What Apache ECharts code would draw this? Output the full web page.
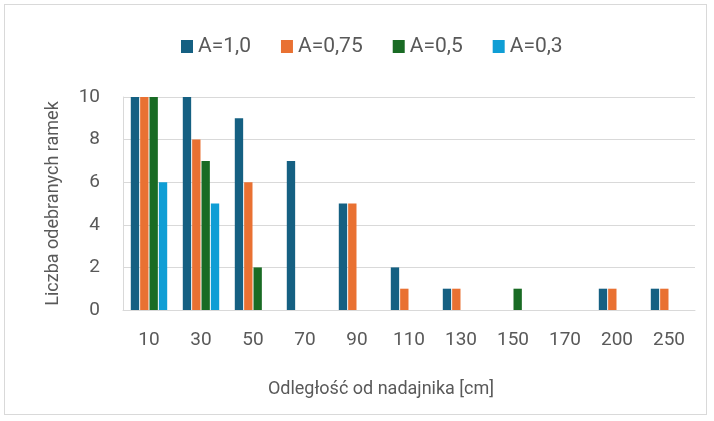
<!DOCTYPE html>
<html>
<head>
<meta charset="utf-8">
<script src="https://cdn.jsdelivr.net/npm/echarts@6/dist/echarts.min.js"></script>
<style>
  html, body { margin: 0; padding: 0; background: #fff; }
  #chart { position: absolute; left: 0; top: 0; width: 714px; height: 421px; }
  #frame { position: absolute; left: 4px; top: 4px; width: 703px; height: 411px; border: 1px solid #d9d9d9; box-sizing: border-box; }
</style>
</head>
<body>
<div id="frame"></div>
<div id="chart"></div>
<script>
var categories = ['10', '30', '50', '70', '90', '110', '130', '150', '170', '200', '250'];
var seriesNames = ['A=1,0', 'A=0,75', 'A=0,5', 'A=0,3'];
var a10 = [10, 10, 9, 7, 5, 2, 1, 0, 0, 1, 1];
var a075 = [10, 8, 6, 0, 5, 1, 1, 0, 0, 1, 1];
var a05 = [10, 7, 2, 0, 0, 0, 0, 1, 0, 0, 0];
var a03 = [6, 5, 0, 0, 0, 0, 0, 0, 0, 0, 0];
var yTicks = [0, 2, 4, 6, 8, 10];

var colors = ['#156082', '#E97132', '#196B24', '#0F9ED5'];
var fontFam = 'Roboto, "Liberation Sans", sans-serif';

var myChart = echarts.init(document.getElementById('chart'));
var allData = [a10, a075, a05, a03];
var series = [];
for (var i = 0; i < seriesNames.length; i++) {
    series.push({
        name: seriesNames[i],
        type: 'bar',
        data: allData[i],
        barGap: '12%',
        barCategoryGap: '30%',
        itemStyle: { color: colors[i] }
    });
}

var option = {
    animation: false,
    textStyle: { fontFamily: fontFam },
    legend: {
        top: 31,
        left: 176,
        itemWidth: 12,
        itemHeight: 13,
        itemGap: 30,
        icon: 'rect',
        textStyle: { color: '#595959', fontSize: 21, fontFamily: fontFam },
        data: seriesNames
    },
    grid: { left: 123, right: 19, top: 97, bottom: 111 },
    xAxis: {
        type: 'category',
        data: categories,
        name: 'Odległość od nadajnika [cm]',
        nameLocation: 'middle',
        nameGap: 70,
        nameTextStyle: { color: '#595959', fontSize: 18, padding: [0, 56, 0, 0] },
        axisLine: { show: true, lineStyle: { color: '#d9d9d9' } },
        axisTick: { show: false },
        axisLabel: { color: '#595959', fontSize: 19, margin: 21 }
    },
    yAxis: {
        type: 'value',
        min: yTicks[0],
        max: yTicks[yTicks.length - 1],
        interval: 2,
        name: 'Liczba odebranych ramek',
        nameLocation: 'middle',
        nameGap: 61,
        nameTextStyle: { color: '#595959', fontSize: 18 },
        axisLine: { show: true, lineStyle: { color: '#d9d9d9' } },
        axisTick: { show: false },
        axisLabel: { color: '#595959', fontSize: 19, margin: 23 },
        splitLine: { lineStyle: { color: '#d9d9d9', width: 1 } }
    },
    series: series
};
myChart.setOption(option);
</script>
</body>
</html>
